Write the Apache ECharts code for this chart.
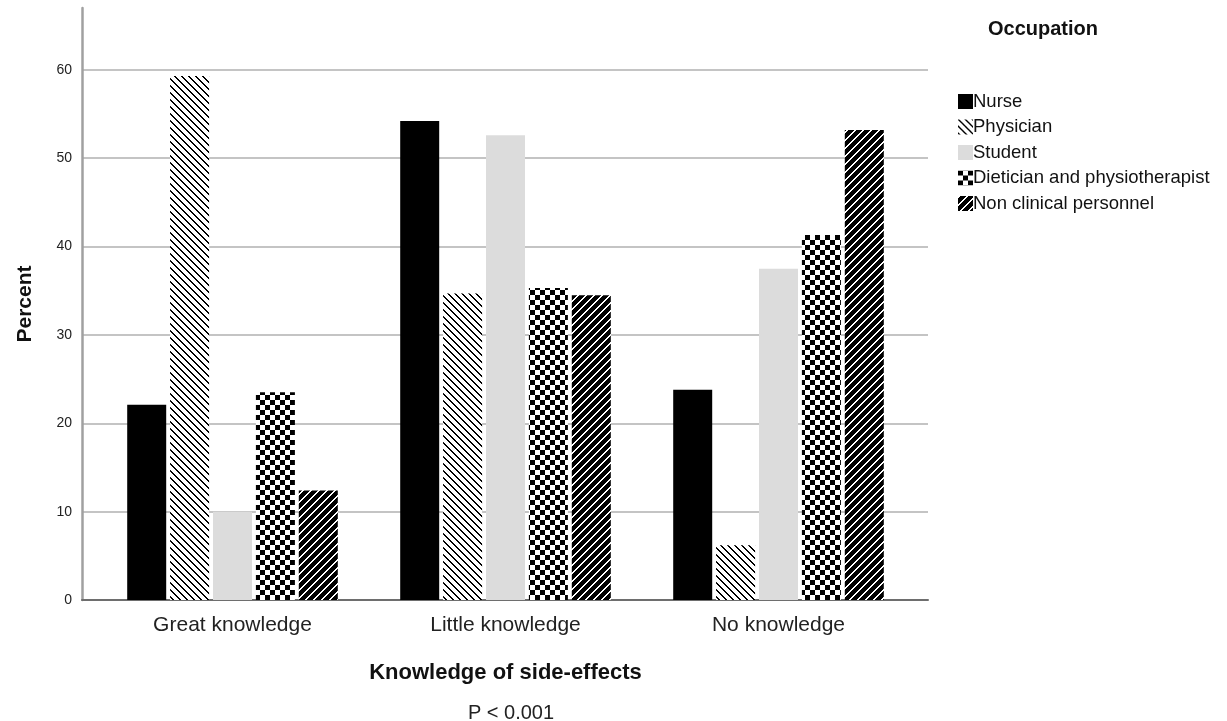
<!DOCTYPE html>
<html>
<head>
<meta charset="utf-8">
<script src="https://cdn.jsdelivr.net/npm/echarts@6/dist/echarts.min.js"></script>
<style>
  html, body { margin: 0; padding: 0; background: #fff; }
  #chart { width: 1227px; height: 721px; }
</style>
</head>
<body>
<div id="chart"></div>
<script>
    'use strict';

    var categories = ['Great knowledge', 'Little knowledge', 'No knowledge'];
    var occupations = ['Nurse', 'Physician', 'Student', 'Dietician and physiotherapist', 'Non clinical personnel'];

    var nurse = [22.1, 54.2, 23.8];
    var physician = [59.3, 34.7, 6.2];
    var student = [10.0, 52.6, 37.5];
    var dietician = [23.5, 35.3, 41.3];
    var nonClinical = [12.4, 34.5, 53.2];

    var yTicks = [0, 10, 20, 30, 40, 50, 60];

    var FONT = 'Liberation Sans, Arial, sans-serif';

    // little pixel tiles used as bar fills
    function tile(size, fn) {
        var c = document.createElement('canvas');
        c.width = size;
        c.height = size;
        var ctx = c.getContext('2d');
        ctx.fillStyle = '#fff';
        ctx.fillRect(0, 0, size, size);
        ctx.fillStyle = '#000';
        for (var x = 0; x < size; x++) {
            for (var y = 0; y < size; y++) {
                if (fn(x, y)) ctx.fillRect(x, y, 1, 1);
            }
        }
        return { image: c, repeat: 'repeat' };
    }

    var backSlash = tile(7, function(x, y) { return ((x - y + 70) % 7) < 2; });
    var checker = tile(10, function(x, y) { return (Math.floor(x / 5) + Math.floor(y / 5)) % 2 === 0; });
    var slashHeavy = tile(8, function(x, y) { return ((x + y) % 8) >= 2; });

    var fills = ['#000000', backSlash, '#dcdcdc', checker, slashHeavy];
    var seriesData = [nurse, physician, student, dietician, nonClinical];

    var series = occupations.map(function(name, i) {
        return {
            name: name,
            type: 'bar',
            xAxisIndex: 1,
            yAxisIndex: 1,
            barWidth: 39,
            barGap: '10%',
            itemStyle: { color: fills[i] },
            emphasis: { disabled: true },
            data: seriesData[i]
        };
    });

    var chart = echarts.init(document.getElementById('chart'));

    chart.setOption({
        backgroundColor: '#fff',
        animation: false,
        title: [{
            text: 'Occupation',
            left: 983,
            top: 14,
            textStyle: { fontFamily: FONT, fontSize: 20, fontWeight: 'bold', color: '#111' }
        }, {
            text: 'P < 0.001',
            left: 506,
            textAlign: 'center',
            top: 698,
            textStyle: { fontFamily: FONT, fontSize: 20, fontWeight: 'normal', color: '#222' }
        }],
        legend: {
            orient: 'vertical',
            left: 953,
            top: 87,
            itemWidth: 15,
            itemHeight: 15,
            itemGap: 6.5,
            icon: 'rect',
            data: occupations,
            textStyle: { fontFamily: FONT, fontSize: 18.5, color: '#111', padding: [0, 0, 0, -5] }
        },
        grid: [
            // frame: full-width axis line and gridlines
            { left: 82, right: 299, top: 8, bottom: 121 },
            // bars sit in a slightly narrower band
            { left: 96, right: 312, top: 8, bottom: 121 }
        ],
        xAxis: [{
            type: 'category',
            gridIndex: 0,
            data: categories,
            axisLine: { lineStyle: { color: '#6e6e6e', width: 2 } },
            axisTick: { show: false },
            axisLabel: { show: false }
        }, {
            type: 'category',
            gridIndex: 1,
            data: categories,
            barCategoryGap: '22.7%',
            axisLine: { show: false },
            axisTick: { show: false },
            axisLabel: { fontFamily: FONT, fontSize: 21, color: '#222', margin: 15 },
            name: 'Knowledge of side-effects',
            nameLocation: 'middle',
            nameGap: 62,
            nameTextStyle: { fontFamily: FONT, fontSize: 22, fontWeight: 'bold', color: '#111' }
        }],
        yAxis: [{
            type: 'value',
            gridIndex: 0,
            min: 0,
            max: 67,
            interval: 10,
            axisLine: { show: true, lineStyle: { color: '#a0a0a0', width: 2.5 } },
            axisTick: { show: false },
            axisLabel: {
                fontFamily: FONT, fontSize: 14, color: '#222', margin: 10,
                formatter: function(v) { return yTicks.indexOf(v) >= 0 ? String(v) : ''; }
            },
            splitLine: {
                lineStyle: {
                    color: ['#c4c4c4', '#c4c4c4', '#c4c4c4', '#c4c4c4', '#c4c4c4', '#c4c4c4', '#c4c4c4', 'rgba(0,0,0,0)'],
                    width: 2
                }
            },
            name: 'Percent',
            nameLocation: 'middle',
            nameGap: 46,
            nameTextStyle: { fontFamily: FONT, fontSize: 21, fontWeight: 'bold', color: '#111' }
        }, {
            type: 'value',
            gridIndex: 1,
            min: 0,
            max: 67,
            interval: 10,
            show: false,
            splitLine: { show: false }
        }],
        series: series
    });
</script>
</body>
</html>
